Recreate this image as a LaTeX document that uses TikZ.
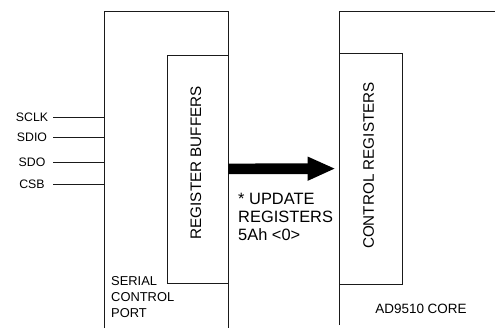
\documentclass[tikz,border=0pt]{standalone}
\usepackage{fontspec}
\setmainfont{Liberation Sans}
\usetikzlibrary{arrows.meta,positioning,calc}
\definecolor{frameline}{HTML}{1A1A1A}

\begin{document}
\begin{tikzpicture}[
regbox/.style={draw=frameline,line width=.7pt,minimum width=#1,inner sep=0pt},
pinlabel/.style={font=\fontsize{10.5}{12}\selectfont,text width=1.26cm,align=center,inner sep=0pt},
vlabel/.style={rotate=90,font=\fontsize{13}{15}\selectfont,inner sep=0pt},
caption/.style={font=\fontsize{11}{14}\selectfont,align=left,inner sep=0pt,anchor=west},
pin/.style={line width=.7pt,draw=frameline},
bigarrow/.style={-{Triangle[length=.84cm,width=.66cm]},line width=.32cm,shorten >=.09cm}]
\useasboundingbox (0,0) rectangle (14.85,9.87);
% outer blocks, open at the bottom
\draw[pin] (3.12,.03) |- (6.84,9.54) -- (6.84,.03);
\draw[pin] (10.17,.12) |- (14.85,9.54);
\coordinate (portW) at (3.12,0);
\node[regbox=1.83cm,minimum height=6.84cm] (buffers) at (5.925,4.8) {};
\node[regbox=1.89cm,minimum height=6.93cm] (control) at (11.115,4.815) {};
\node[vlabel] (buffersText) at (5.88,4.99) {REGISTER BUFFERS};
\node[vlabel] (controlText) at (11.055,4.905) {CONTROL REGISTERS};
\draw[bigarrow] (buffers) -- (control);
% serial pins
\node[pinlabel] (sclk) at (.96,6.36) {SCLK};
\node[pinlabel] (sdio) at (.96,5.76) {SDIO};
\node[pinlabel] (sdo) at (.96,5.01) {SDO};
\node[pinlabel] (csb) at (.96,4.35) {CSB};
\foreach \p in {sclk,sdio,sdo,csb}
 \draw[pin] (\p.east) -- (\p.east -| portW);
\node[caption,font=\fontsize{14}{15}\selectfont] (update) at (7.14,3.36) {* UPDATE\\REGISTERS\\5Ah <0>};
\node[caption] (port) at (3.33,.96) {SERIAL\\CONTROL\\PORT};
\node[caption,anchor=center,font=\fontsize{11.5}{14}\selectfont] (core) at (12.63,.615) {AD9510 CORE};
\end{tikzpicture}
\end{document}
